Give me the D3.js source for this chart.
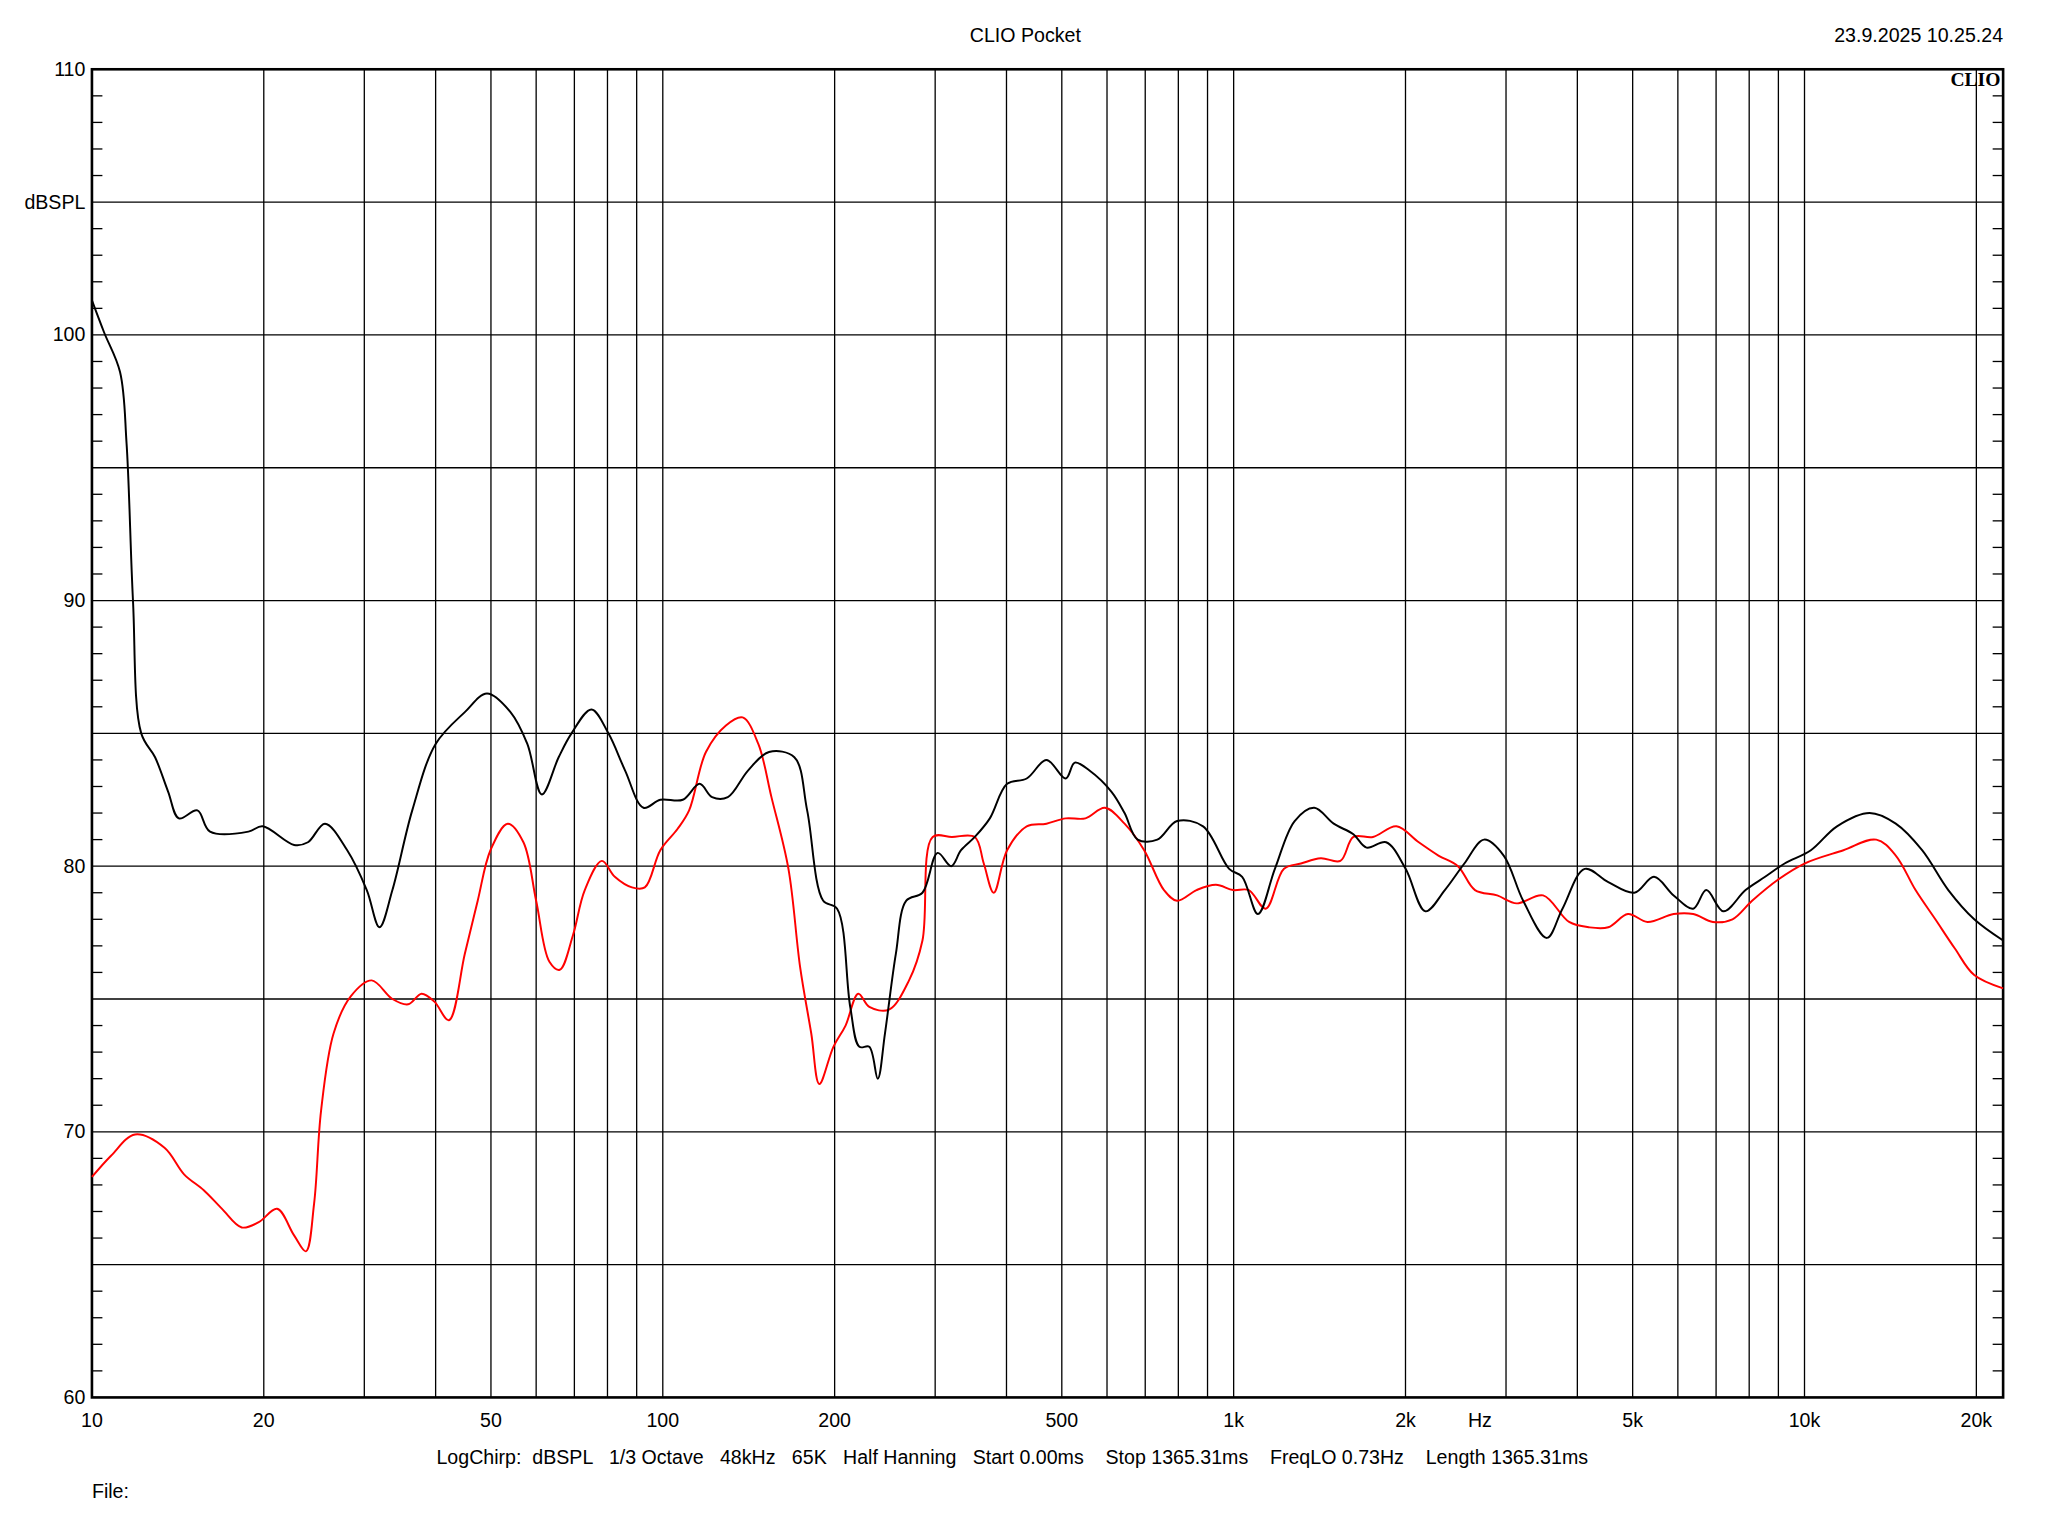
<!DOCTYPE html>
<html><head><meta charset="utf-8">
<script src="https://cdn.jsdelivr.net/npm/d3@7"></script>
<style>body{margin:0;background:#fff}svg{display:block}</style>
</head><body>
<script>
const blackFreq = [10,10.5,11.2,11.5,11.8,12.2,12.9,13.6,14.2,15.3,16.1,18.8,19.9,22.6,23.9,25.6,28,30.3,31.9,33.6,36.4,40,45,49.2,54.1,57.9,61.4,65.7,69.2,75,80.3,85.9,92.5,99,108.4,116,122,130,141,153.5,170,179,191,202,213,221,230,238,245,256,267,285,303,320,333,352,374,401,434,470,508,527,559,611,644,679,735,796,884,982,1035,1103,1181,1279,1384,1497,1621,1709,1850,2001,2167,2344,2536,2746,2972,3215,3537,3767,4121,4532,5035,5450,5899,6383,6730,7211,7884,8531,9229,10260,11400,13000,14450,16070,17860,19830,22280];
const blackDb = [101.3,100.1,98.6,95.9,90,85,84.1,82.8,81.8,82.1,81.3,81.3,81.5,80.8,80.9,81.6,80.6,79.1,77.7,79.1,82.1,84.6,85.8,86.5,85.8,84.6,82.7,84.1,85,85.9,85,83.6,82.2,82.5,82.5,83.1,82.6,82.6,83.6,84.3,84.1,82.1,78.7,78.4,74.7,73.2,73.2,72,73.7,76.7,78.7,79,80.5,80,80.6,81.1,81.8,83.1,83.3,84,83.3,83.9,83.6,82.8,82,81,81,81.7,81.5,79.9,79.6,78.2,79.9,81.7,82.2,81.6,81.2,80.7,80.9,79.9,78.3,79.1,80.1,81,80.4,78.7,77.3,78.4,79.9,79.4,79,79.6,78.9,78.4,79.1,78.3,79.1,79.6,80.1,80.6,81.5,82,81.6,80.6,79.1,78,77.2];
const redFreq = [10,10.8,11.9,13.4,14.5,15.7,16.9,18.3,19.6,21.1,22.6,23.7,24.5,25.2,26.5,28.4,30.9,33.6,35.8,37.8,39.8,42.2,45,47.4,49.9,53.5,57,60,63.3,66,69.6,73,78.2,82.4,88.3,93,99,106.1,111.2,119,129,138,147,155,166,174,182,188,199,209,220,230,249,270,285,297,321,352,365,380,401,434,470,508,550,595,644,697,755,796,861,931,998,1063,1138,1225,1312,1421,1538,1621,1754,1928,2110,2284,2471,2647,2895,3133,3484,3869,4188,4532,4905,5309,5899,6383,6911,7479,8094,8995,10000,11700,13360,14450,15650,16950,18340,19830,22280];
const redDb = [68.3,69.1,69.9,69.4,68.4,67.8,67.1,66.4,66.6,67.1,66.1,65.5,67.3,70.8,73.7,75.1,75.7,75,74.8,75.2,74.9,74.2,76.7,78.7,80.6,81.6,80.9,78.7,76.4,76.1,77.4,79.1,80.2,79.6,79.2,79.2,80.6,81.4,82.1,84.3,85.3,85.6,84.6,82.6,79.9,76.2,73.7,71.8,73.2,74,75.2,74.7,74.6,75.7,77.2,81.1,81.1,81.1,80.1,79,80.6,81.5,81.6,81.8,81.8,82.2,81.6,80.6,79.1,78.7,79.1,79.3,79.1,79.1,78.4,79.9,80.1,80.3,80.2,81.1,81.1,81.5,80.9,80.4,80,79.1,78.9,78.6,78.9,77.9,77.7,77.7,78.2,77.9,78.2,78.2,77.9,78,78.7,79.5,80.1,80.6,81,80.4,79.1,78,76.9,75.9,75.4];
const xTickLabels = [[10,"10"],[20,"20"],[50,"50"],[100,"100"],[200,"200"],[500,"500"],[1000,"1k"],[2000,"2k"],[2700,"Hz"],[5000,"5k"],[10000,"10k"],[20000,"20k"]];
const yTickLabels = [[60,"60"],[70,"70"],[80,"80"],[90,"90"],[100,"100"],[105,"dBSPL"],[110,"110"]];

const W = 1566, H = 1175;
const L = 70, R = 1532, T = 53, B = 1069;
const font = "'Liberation Sans', Arial, sans-serif";

const svg = d3.select("body").append("svg")
  .attr("width", 2048).attr("height", 1536)
  .attr("viewBox", `0 0 ${W} ${H}`)
  .style("font-family", font);

const x = d3.scaleLog().domain([10, 22280]).range([L, R]);
const y = d3.scaleLinear().domain([60, 110]).range([B, T]);

// vertical grid
const gridF = [];
for (let d = 10; d <= 10000; d *= 10)
  for (let m = 1; m <= 9; m++) if (d * m > 10 && d * m < 22280) gridF.push(d * m);
svg.append("g").selectAll("line").data(gridF).join("line")
  .attr("x1", d => x(d)).attr("x2", d => x(d)).attr("y1", T).attr("y2", B)
  .attr("stroke", "#000").attr("stroke-width", 1);

// horizontal grid
svg.append("g").selectAll("line").data(d3.range(65, 110, 5)).join("line")
  .attr("x1", L).attr("x2", R).attr("y1", d => y(d)).attr("y2", d => y(d))
  .attr("stroke", "#000").attr("stroke-width", 1);

// minor ticks left/right
const minor = d3.range(61, 110).filter(d => d % 5 !== 0);
svg.append("g").selectAll("line").data(minor).join("line")
  .attr("x1", L).attr("x2", L + 8).attr("y1", d => y(d)).attr("y2", d => y(d))
  .attr("stroke", "#000");
svg.append("g").selectAll("line").data(minor).join("line")
  .attr("x1", R - 8).attr("x2", R).attr("y1", d => y(d)).attr("y2", d => y(d))
  .attr("stroke", "#000");

// frame
svg.append("rect").attr("x", L).attr("y", T).attr("width", R - L).attr("height", B - T)
  .attr("fill", "none").attr("stroke", "#000").attr("stroke-width", 2);

const line = d3.line().x(d => x(d[0])).y(d => y(d[1])).curve(d3.curveCatmullRom);
svg.append("path").datum(d3.zip(redFreq, redDb)).attr("d", line)
  .attr("fill", "none").attr("stroke", "#ff0000").attr("stroke-width", 1.5);
svg.append("path").datum(d3.zip(blackFreq, blackDb)).attr("d", line)
  .attr("fill", "none").attr("stroke", "#000").attr("stroke-width", 1.5);

// tick labels
svg.append("g").selectAll("text").data(xTickLabels).join("text")
  .attr("x", d => x(d[0])).attr("y", B + 23).attr("text-anchor", "middle")
  .attr("font-size", 15).text(d => d[1]);
svg.append("g").selectAll("text").data(yTickLabels).join("text")
  .attr("x", L - 5).attr("y", d => y(d[0]) + 5).attr("text-anchor", "end")
  .attr("font-size", 15).text(d => d[1]);

svg.append("text").attr("x", 784).attr("y", 32).attr("text-anchor", "middle")
  .attr("font-size", 15).text("CLIO Pocket");
svg.append("text").attr("x", R).attr("y", 32).attr("text-anchor", "end")
  .attr("font-size", 15).text("23.9.2025 10.25.24");
svg.append("text").attr("x", R - 2).attr("y", 66).attr("text-anchor", "end")
  .attr("font-size", 15).attr("font-weight", "bold")
  .attr("font-family", "'Liberation Serif', 'DejaVu Serif', serif").text("CLIO");
svg.append("text").attr("x", 774).attr("y", 1120).attr("text-anchor", "middle")
  .attr("font-size", 15).attr("xml:space", "preserve")
  .text("LogChirp:  dBSPL   1/3 Octave   48kHz   65K   Half Hanning   Start 0.00ms    Stop 1365.31ms    FreqLO 0.73Hz    Length 1365.31ms");
svg.append("text").attr("x", 70).attr("y", 1146).attr("font-size", 15).text("File:");
</script>
</body></html>
